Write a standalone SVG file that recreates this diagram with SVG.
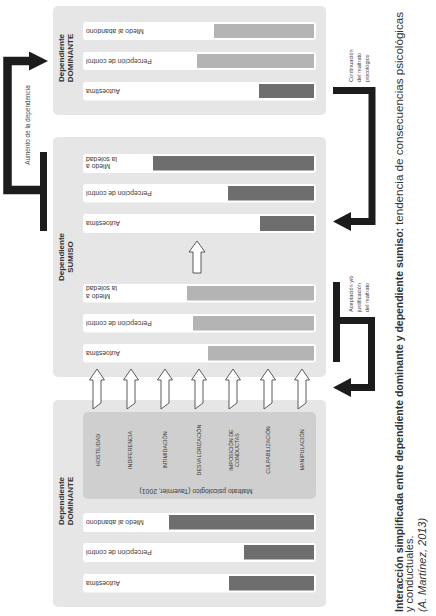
<svg xmlns="http://www.w3.org/2000/svg" width="436" height="616" viewBox="0 0 436 616">
<style>
text{font-family:"Liberation Sans",Arial,sans-serif;fill:#3a3a3a;dominant-baseline:central}
.panel{fill:#e6e6e6}
.inner{fill:#cfcfcf}
.row{fill:#ffffff}
.bl{fill:#b4b4b4}
.bd{fill:#6e6e6e}
.lbl{font-size:6.8px;text-anchor:end}
.dep{font-size:8px;font-weight:bold;text-anchor:middle;fill:#333}
.mt{font-size:5.4px;text-anchor:middle}
.note{font-size:5.6px;text-anchor:start;fill:#444}
.conn{stroke:#1c1c1c;fill:none;stroke-linejoin:miter}
.head{fill:#1c1c1c}
.hollow{fill:#ffffff;stroke:#4a4a4a;stroke-width:0.9}
.cap{font-size:11px;text-anchor:start;fill:#333}
</style>

<g id="node-dominante-top">
<rect class="panel" x="53" y="6" width="273" height="109" rx="5"/>
<text class="dep" transform="translate(65.5,58) rotate(-90)"><tspan x="0" y="-4.5">Dependiente</tspan><tspan x="0" y="4.5">DOMINANTE</tspan></text>
<rect class="row" x="83" y="22" width="233" height="18" rx="3"/>
<rect class="bl" x="214" y="24" width="100" height="14"/>
<text class="lbl" transform="translate(86,31) rotate(180)">Miedo al abandono</text>
<rect class="row" x="83" y="52" width="233" height="18" rx="3"/>
<rect class="bl" x="197" y="54" width="117" height="14"/>
<text class="lbl" transform="translate(86,61) rotate(180)">Percepción de control</text>
<rect class="row" x="83" y="82" width="233" height="18.5" rx="3"/>
<rect class="bd" x="259" y="84" width="55" height="14"/>
<text class="lbl" transform="translate(86,91) rotate(180)">Autoestima</text>
</g>

<g id="node-sumiso">
<rect class="panel" x="53" y="137" width="273" height="240" rx="5"/>
<text class="dep" transform="translate(65.5,257) rotate(-90)"><tspan x="0" y="-4.5">Dependiente</tspan><tspan x="0" y="4.5">SUMISO</tspan></text>
<rect class="row" x="83" y="154" width="233" height="19" rx="3"/>
<rect class="bd" x="153" y="156" width="161" height="14.5"/>
<text class="lbl" transform="translate(86,163.5) rotate(180)"><tspan x="0" y="-3.6">Miedo a</tspan><tspan x="0" y="3.6">la soledad</tspan></text>
<rect class="row" x="83" y="184" width="233" height="18.5" rx="3"/>
<rect class="bd" x="228" y="186" width="86" height="14.5"/>
<text class="lbl" transform="translate(86,193) rotate(180)">Percepción de control</text>
<rect class="row" x="83" y="214" width="233" height="19" rx="3"/>
<rect class="bd" x="260" y="216" width="54" height="15"/>
<text class="lbl" transform="translate(86,223.5) rotate(180)">Autoestima</text>
<path class="hollow" d="M197,241 L205,252 L201,252 L201,273 L193,273 L193,252 L189,252 Z"/>
<rect class="row" x="83" y="284" width="233" height="18.5" rx="3"/>
<rect class="bl" x="187" y="286" width="127" height="14.5"/>
<text class="lbl" transform="translate(86,293) rotate(180)"><tspan x="0" y="-3.6">Miedo a</tspan><tspan x="0" y="3.6">la soledad</tspan></text>
<rect class="row" x="83" y="314" width="233" height="18.5" rx="3"/>
<rect class="bl" x="193" y="316" width="121" height="14.5"/>
<text class="lbl" transform="translate(86,323) rotate(180)">Percepción de control</text>
<rect class="row" x="83" y="344" width="233" height="18.5" rx="3"/>
<rect class="bl" x="208" y="346" width="106" height="14.5"/>
<text class="lbl" transform="translate(86,353) rotate(180)">Autoestima</text>
</g>

<g id="node-dominante-bottom">
<rect class="panel" x="53" y="400" width="273" height="207" rx="5"/>
<text class="dep" transform="translate(65.5,501) rotate(-90)"><tspan x="0" y="-4.5">Dependiente</tspan><tspan x="0" y="4.5">DOMINANTE</tspan></text>
<g id="node-maltrato">
<rect class="inner" x="83" y="412" width="233" height="87" rx="5"/>
<text class="mt" transform="translate(98,450) rotate(-90)">HOSTILIDAD</text>
<text class="mt" transform="translate(130,450) rotate(-90)">INDIFERENCIA</text>
<text class="mt" transform="translate(165,450) rotate(-90)">INTIMIDACIÓN</text>
<text class="mt" transform="translate(199,450) rotate(-90)">DESVALORIZACIÓN</text>
<text class="mt" transform="translate(233.5,450) rotate(-90)"><tspan x="0" y="-3">IMPOSICIÓN DE</tspan><tspan x="0" y="3">CONDUCTAS</tspan></text>
<text class="mt" transform="translate(268,450) rotate(-90)">CULPABILIZACIÓN</text>
<text class="mt" transform="translate(302,450) rotate(-90)">MANIPULACIÓN</text>
<text class="lbl" style="text-anchor:middle" transform="translate(196,491) rotate(180)">Maltrato psicológico (Tavernier, 2001)</text>
</g>
<rect class="row" x="83" y="513" width="233" height="19" rx="3"/>
<rect class="bd" x="169" y="515" width="145" height="14.5"/>
<text class="lbl" transform="translate(86,522.5) rotate(180)">Miedo al abandono</text>
<rect class="row" x="83" y="543" width="233" height="19" rx="3"/>
<rect class="bd" x="244" y="545" width="70" height="14.5"/>
<text class="lbl" transform="translate(86,552.5) rotate(180)">Percepción de control</text>
<rect class="row" x="83" y="574" width="233" height="18.5" rx="3"/>
<rect class="bd" x="229" y="576" width="85" height="14.5"/>
<text class="lbl" transform="translate(86,583) rotate(180)">Autoestima</text>
</g>

<g id="connectors">
<g id="maltrato-arrows">
<path class="hollow" d="M97,369 L104.5,380 L101,380 L101,403 L93,409 L93,380 L89.5,380 Z"/>
<path class="hollow" d="M131,369 L138.5,380 L135,380 L135,403 L127,409 L127,380 L123.5,380 Z"/>
<path class="hollow" d="M165,369 L172.5,380 L169,380 L169,403 L161,409 L161,380 L157.5,380 Z"/>
<path class="hollow" d="M199,369 L206.5,380 L203,380 L203,403 L195,409 L195,380 L191.5,380 Z"/>
<path class="hollow" d="M233,369 L240.5,380 L237,380 L237,403 L229,409 L229,380 L225.5,380 Z"/>
<path class="hollow" d="M268,369 L275.5,380 L272,380 L272,403 L264,409 L264,380 L260.5,380 Z"/>
<path class="hollow" d="M302,369 L309.5,380 L306,380 L306,403 L298,409 L298,380 L294.5,380 Z"/>
</g>
<g id="conn-aumento">
<polyline class="conn" stroke-width="8.5" points="43.5,190 7.5,190 7.5,61 30,61"/>
<line class="conn" stroke-width="7" x1="43.5" y1="152" x2="43.5" y2="231"/>
<polygon class="head" points="29,51.5 48,61 29,70.5"/>
<text class="note" style="font-size:6.4px;text-anchor:middle" transform="translate(27,125) rotate(-90)">Aumento de la dependencia</text>
</g>
<g id="conn-continuacion">
<polyline class="conn" stroke-width="7" points="333,90.5 372,90.5 372,221.5 350,221.5"/>
<polygon class="head" points="351,212 333,221.5 351,231"/>
<text class="note" transform="translate(351,82) rotate(-90)"><tspan x="0" y="0">Continuación</tspan><tspan x="0" y="8">del maltrato</tspan><tspan x="0" y="16">psicológico</tspan></text>
</g>
<g id="conn-aceptacion">
<line class="conn" stroke-width="7" x1="336.5" y1="282" x2="336.5" y2="362"/>
<polyline class="conn" stroke-width="7" points="336.5,320.5 371.5,320.5 371.5,387.5 350,387.5"/>
<polygon class="head" points="351,378 333,387.5 351,397"/>
<text class="note" transform="translate(351,312) rotate(-90)"><tspan x="0" y="0">Aceptación y/o</tspan><tspan x="0" y="8">justificación</tspan><tspan x="0" y="16">del maltrato</tspan></text>
</g>
</g>

<g id="caption">
<text class="cap" font-weight="bold" textLength="384" lengthAdjust="spacingAndGlyphs" transform="translate(399,612) rotate(-90)">Interacción simplificada entre dependiente dominante y dependiente sumiso:</text>
<text class="cap" textLength="213" lengthAdjust="spacingAndGlyphs" transform="translate(399,225) rotate(-90)">tendencia de consecuencias psicológicas</text>
<text class="cap" transform="translate(409,612) rotate(-90)">y conductuales.</text>
<text class="cap" font-style="italic" transform="translate(422,612) rotate(-90)">(A. Martínez, 2013)</text>
</g>
</svg>
